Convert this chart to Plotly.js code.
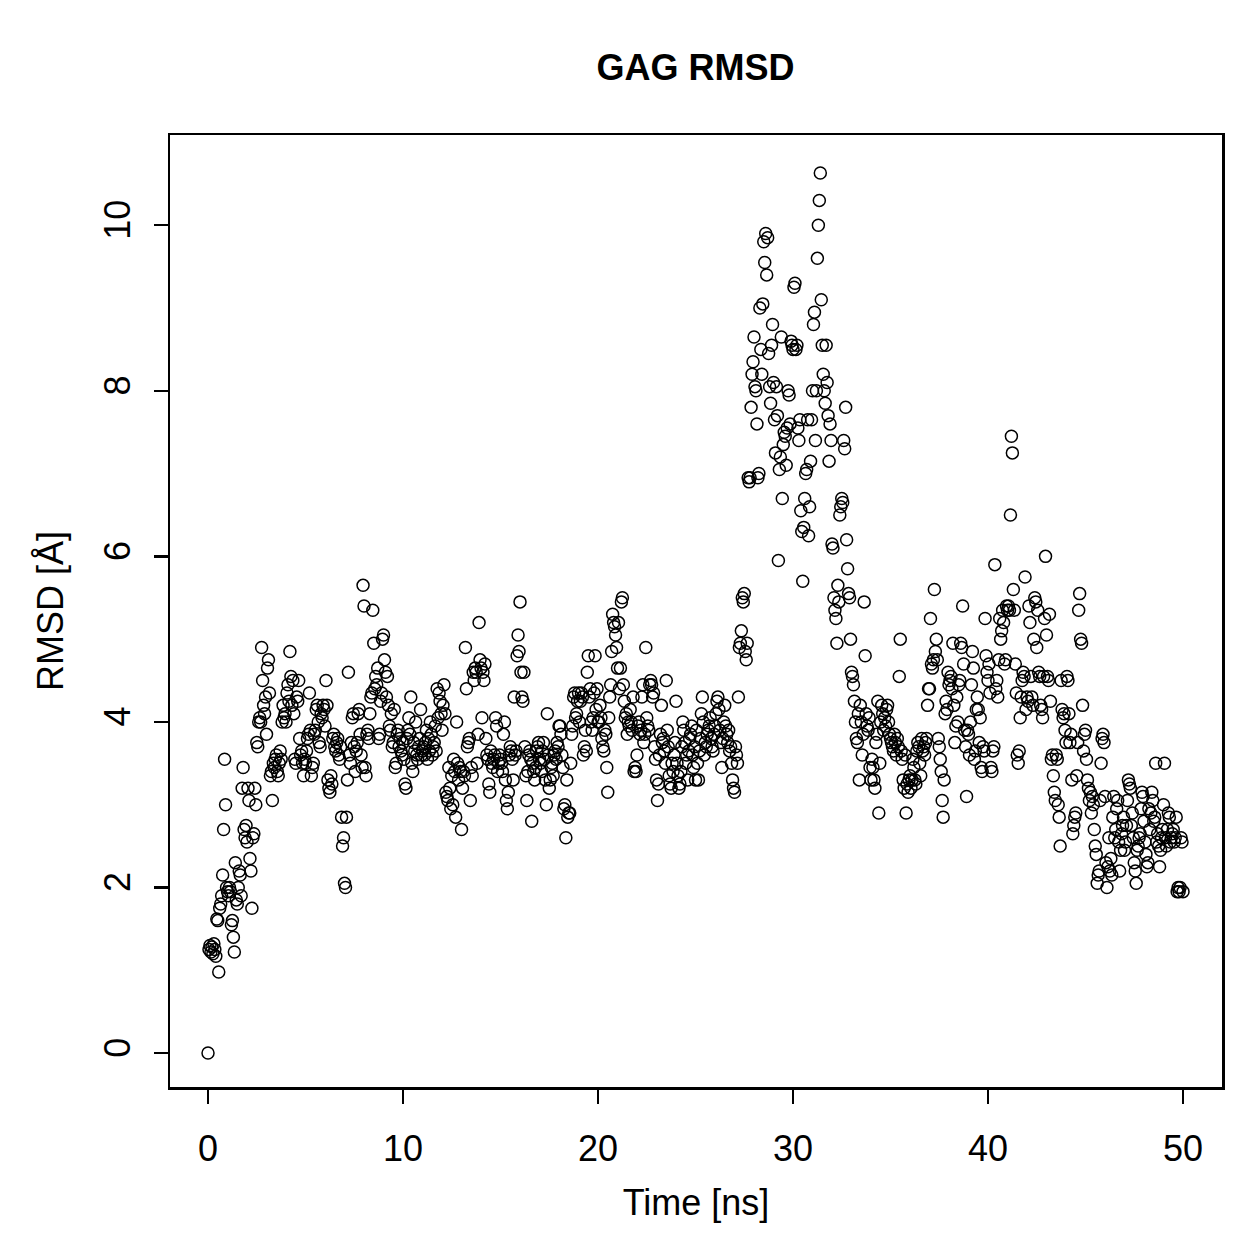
<!DOCTYPE html>
<html>
<head>
<meta charset="utf-8">
<script src="https://cdn.plot.ly/plotly-3.0.1.min.js"></script>
<style>html,body{margin:0;padding:0;background:#fff;}#chart{width:1259px;height:1259px;}</style>
</head>
<body>
<div id="chart"></div>
<script>
// Sampling step of the trajectory (ns)
const timeStep = 0.05;
const startValue = 0.0;   // RMSD at t = 0
// RMSD [Å], one row per nanosecond (20 frames each, t = k+0.05 ... k+1.0)
const rmsdRows = [
[1.25,1.3,1.22,1.28,1.2,1.32,1.25,1.17,1.62,1.6,0.98,1.75,1.8,1.9,2.15,2.7,3.55,3.0,2.0,1.95],
[1.9,2.0,1.95,1.55,1.6,1.4,1.22,2.3,1.85,1.8,2.0,2.2,2.15,1.9,3.2,3.45,2.7,2.6,2.75,2.55],
[3.2,3.05,2.35,2.2,1.75,2.6,2.65,3.2,3.0,3.75,3.7,4.0,4.05,4.0,4.9,4.5,4.2,4.1,4.3,3.85],
[4.65,4.75,4.35,3.35,3.4,3.05,3.5,3.45,3.55,3.6,3.4,3.35,3.5,3.65,3.55,4.0,4.2,4.05,4.1,4.0],
[4.35,4.45,4.25,4.85,4.55,4.2,4.5,4.1,3.55,3.5,4.3,4.25,4.5,3.8,3.6,3.65,3.5,3.35,3.55,3.5],
[3.65,3.8,3.85,4.35,3.9,3.35,3.45,3.5,3.85,3.9,4.15,4.2,4.0,3.75,3.7,4.1,4.05,4.2,4.15,3.95],
[4.5,4.2,3.3,3.2,3.15,3.35,3.25,3.8,3.85,3.7,3.65,3.75,3.8,3.6,3.55,3.7,2.85,2.5,2.6,2.05],
[2.0,2.85,3.3,4.6,3.6,3.5,3.75,4.05,4.1,3.7,3.4,3.65,3.75,4.1,4.15,3.85,3.6,3.45,5.65,5.4],
[3.45,3.35,3.85,3.9,3.8,4.1,4.3,4.35,5.35,4.95,4.4,4.55,4.45,4.65,3.8,3.85,4.25,4.35,5.0,5.05],
[4.75,4.6,4.3,4.55,4.2,3.95,3.9,4.1,3.7,3.75,4.15,3.45,3.5,3.85,3.9,3.7,3.8,3.65,3.6,3.75],
[3.55,3.25,3.2,3.8,3.9,4.05,3.85,4.3,3.5,3.4,3.75,3.65,4.0,3.6,3.55,3.7,3.8,4.15,3.6,3.65],
[3.7,3.6,3.75,3.9,3.55,3.8,3.65,4.0,3.85,3.6,3.7,3.75,3.95,3.65,4.4,4.05,4.35,4.25,4.1,3.9],
[4.2,4.45,4.1,3.15,3.1,3.05,3.45,3.2,2.95,3.35,3.0,3.55,3.4,2.85,4.0,3.5,3.3,3.45,3.4,2.7],
[3.2,3.4,3.35,4.9,4.4,3.7,3.75,3.8,3.05,3.45,3.35,4.6,4.5,4.65,4.6,3.5,3.85,5.2,4.75,4.65],
[4.05,4.6,4.5,4.7,3.8,3.6,3.55,3.25,3.15,3.65,3.5,3.45,3.55,3.6,4.05,3.95,3.4,3.5,3.6,3.55],
[3.5,3.4,3.85,4.0,3.3,3.05,2.95,3.15,3.6,3.7,3.65,3.55,3.3,4.3,3.6,3.65,4.8,5.05,4.85,5.45],
[4.6,4.3,4.25,4.6,3.7,3.35,3.05,3.4,3.6,3.65,3.55,2.8,3.5,3.4,3.3,3.45,3.65,3.7,3.75,3.55],
[3.5,3.4,3.65,3.75,3.55,3.3,3.0,4.1,3.6,3.2,3.3,3.45,3.5,3.35,3.6,3.65,3.55,3.75,3.7,3.95],
[3.95,3.85,3.6,3.45,2.95,3.0,2.6,3.3,2.85,2.9,2.9,3.5,3.85,3.95,4.3,4.35,4.05,4.1,4.25,4.35],
[4.0,4.25,4.35,4.3,3.6,3.7,3.9,3.65,4.6,4.8,4.3,4.4,4.0,3.9,4.05,4.35,4.8,4.15,4.4,4.0],
[4.0,4.2,4.05,3.8,3.7,3.65,3.9,3.85,3.45,3.15,4.05,4.3,4.45,4.85,5.3,5.2,5.15,5.05,4.9,4.65],
[5.2,4.4,4.65,5.45,5.5,4.45,4.25,4.05,4.1,3.85,4.0,3.95,4.15,4.0,3.9,4.3,3.4,3.45,3.4,3.6],
[3.95,4.0,3.85,3.9,4.3,4.45,3.75,3.85,4.9,4.05,3.95,3.9,4.45,4.5,4.45,4.3,4.35,3.7,3.55,3.3],
[3.05,3.25,3.6,3.85,4.2,3.75,3.8,3.65,3.5,4.5,3.9,3.7,3.35,3.25,3.2,3.5,3.4,3.6,3.75,4.25],
[3.5,3.35,3.2,3.25,3.4,3.7,4.0,3.9,3.75,3.5,3.6,3.3,3.65,3.8,3.85,3.95,3.6,3.45,3.7,3.3],
[3.9,3.5,3.3,3.65,3.8,4.1,4.3,4.0,3.6,3.75,3.7,3.85,3.9,3.95,4.05,3.8,3.7,3.65,3.85,3.95],
[4.1,4.25,4.3,4.15,3.9,3.75,3.45,3.8,4.0,4.2,3.95,3.85,3.75,3.9,3.65,3.7,3.5,3.3,3.2,3.15],
[3.7,3.6,3.5,4.3,4.9,4.95,5.1,5.5,5.45,5.55,4.85,4.75,4.95,6.95,6.9,6.95,7.8,8.2,8.35,8.65],
[8.05,8.0,7.6,6.95,7.0,9.0,8.5,8.2,9.05,9.8,9.55,9.9,9.4,9.85,8.45,8.05,7.85,8.55,8.8,8.1],
[7.65,7.25,8.05,7.7,5.95,7.05,7.2,8.65,6.7,7.35,7.5,7.45,7.1,7.55,8.0,7.95,7.6,8.6,8.55,8.5],
[9.25,9.3,8.5,8.55,7.55,7.4,7.65,6.55,6.3,5.7,6.35,6.7,7.0,7.05,7.65,6.25,6.6,7.15,7.65,8.0],
[8.8,8.95,7.4,8.0,9.6,10.0,10.3,10.63,9.1,8.55,8.2,8.0,7.85,8.55,8.1,7.7,7.15,7.6,7.4,6.15],
[6.1,5.5,5.35,5.25,4.95,5.65,5.45,6.5,6.6,6.7,6.65,7.4,7.3,7.8,6.2,5.85,5.55,5.5,5.0,4.6],
[4.55,4.45,4.25,4.0,3.8,3.75,4.1,3.3,4.2,4.0,3.6,3.85,5.45,4.8,4.1,3.95,3.9,4.05,3.45,3.3],
[3.55,3.45,3.3,3.2,3.75,3.85,4.25,2.9,3.5,4.0,4.2,4.1,3.9,4.05,3.95,4.15,4.2,4.0,3.85,3.8],
[3.75,3.7,3.65,3.85,3.75,3.6,3.8,3.7,4.55,5.0,3.65,3.55,3.3,3.2,3.6,2.9,3.25,3.15,3.3,3.35],
[3.2,3.3,3.55,3.45,3.3,3.25,3.65,3.75,3.7,3.5,3.35,3.8,3.65,3.7,3.6,3.75,3.8,4.2,4.4,4.4],
[5.25,4.7,4.65,4.75,5.6,4.85,5.0,4.75,3.8,3.7,3.55,3.4,3.05,2.85,3.3,4.1,4.25,4.15,4.6,4.45],
[4.5,4.55,4.4,4.95,4.2,3.75,3.95,4.3,4.0,4.45,4.5,4.95,4.9,5.4,4.7,3.9,3.7,3.1,3.9,3.85],
[3.6,4.0,4.45,4.85,4.65,3.55,3.65,4.15,4.3,4.15,3.75,4.05,3.45,3.4,3.7,3.65,5.25,4.8,4.6,4.5],
[4.7,4.35,3.45,3.4,3.65,3.7,5.9,4.4,4.5,4.3,4.75,5.25,5.0,5.1,5.35,5.2,4.7,4.75,5.4,5.35],
[5.4,5.35,6.5,7.45,7.25,5.6,5.35,4.7,4.35,3.6,3.5,3.65,4.05,4.3,4.5,4.6,4.55,5.75,4.15,4.3],
[4.25,5.4,5.2,4.55,4.3,4.2,5.0,5.5,5.45,4.9,5.35,4.6,4.55,4.2,4.15,4.05,4.55,5.25,6.0,5.05],
[4.55,4.5,5.3,4.25,3.55,3.6,3.35,3.15,3.05,3.6,3.55,3.0,2.85,2.5,4.5,4.15,4.05,4.1,3.9,3.75],
[4.55,4.5,4.1,3.75,3.85,3.3,2.65,2.75,2.85,2.9,3.35,3.75,5.35,5.55,5.0,4.95,4.2,3.65,3.85,3.9],
[3.55,3.3,3.2,3.05,3.15,2.9,3.1,3.0,2.7,2.5,2.4,2.05,2.15,2.2,3.05,3.5,3.8,3.85,3.75,3.1],
[2.3,2.0,2.25,2.6,2.2,2.35,2.15,2.85,3.1,2.6,2.7,2.95,3.05,2.55,2.2,2.45,2.65,2.75,2.85,2.45],
[2.55,2.75,3.05,3.3,3.25,3.2,2.75,2.9,2.6,2.3,2.2,2.05,2.45,2.5,2.6,2.65,2.95,3.15,3.1,2.8],
[2.55,2.4,2.25,2.3,2.95,2.7,2.9,3.15,3.05,2.8,2.85,3.5,2.55,2.65,2.5,2.25,2.45,2.6,2.7,3.0],
[3.5,2.6,2.5,2.7,2.9,2.85,2.55,2.6,2.65,2.7,2.55,2.6,2.85,1.95,2.0,1.95,2.0,2.6,2.55,1.95]
];
const xTickVals = [0, 10, 20, 30, 40, 50];
const yTickVals = [0, 2, 4, 6, 8, 10];

const timeNs = [0];
const rmsd = [startValue];
rmsdRows.forEach((row, k) => {
  row.forEach((v, j) => {
    timeNs.push(+(k + (j + 1) * timeStep).toFixed(2));
    rmsd.push(v);
  });
});

const font = "Liberation Sans, Arial, Helvetica, sans-serif";
const trace = {
  x: timeNs, y: rmsd, type: 'scatter', mode: 'markers',
  marker: {symbol: 'circle-open', size: 12, color: '#000', line: {width: 1.5, color: '#000'}},
  hoverinfo: 'x+y'
};
const axisCommon = {
  showgrid: false, zeroline: false, showline: true, mirror: true,
  linecolor: '#000', linewidth: 2.5, ticks: 'outside', ticklen: 14, tickwidth: 2.5,
  tickcolor: '#000', tickfont: {family: font, size: 36, color: '#000'}
};
const layout = {
  width: 1259, height: 1259,
  margin: {l: 170, r: 37, t: 135, b: 172, autoexpand: false},
  paper_bgcolor: '#fff', plot_bgcolor: '#fff',
  showlegend: false,
  title: {text: '<b>GAG RMSD</b>', font: {family: font, size: 36, color: '#000'},
          x: 0.5525, xref: 'container', xanchor: 'center', y: 1 - 67/1259, yref: 'container', yanchor: 'middle'},
  xaxis: Object.assign({}, axisCommon, {
    range: [-1.95, 52.0], tickvals: xTickVals, ticktext: xTickVals.map(String),
    ticklabelstandoff: 14,
    title: {text: 'Time [ns]', font: {family: font, size: 36, color: '#000'}, standoff: 22}
  }),
  yaxis: Object.assign({}, axisCommon, {
    range: [-0.41, 11.09], tickvals: yTickVals, ticktext: yTickVals.map(String),
    tickangle: -90, ticklabelstandoff: 9,
    title: {text: 'RMSD [Å]', font: {family: font, size: 36, color: '#000'}, standoff: 23}
  })
};
Plotly.newPlot('chart', [trace], layout, {displayModeBar: false, staticPlot: true});
</script>
</body>
</html>
